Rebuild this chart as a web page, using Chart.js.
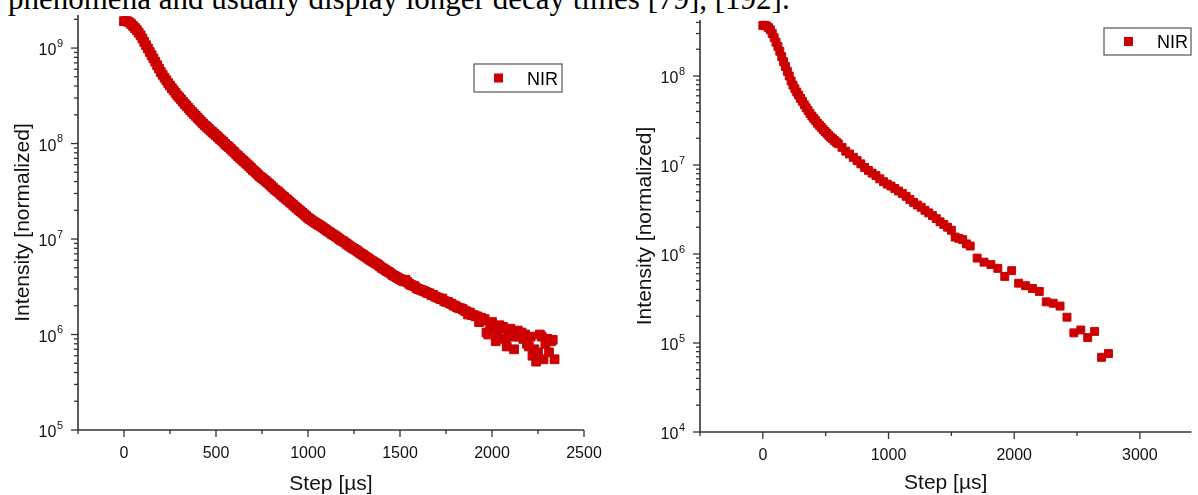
<!DOCTYPE html>
<html>
<head>
<meta charset="utf-8">
<title>NIR decay</title>
<script src="https://cdn.jsdelivr.net/npm/chart.js@4.4.1/dist/chart.umd.min.js"></script>
<style>
  html, body { margin: 0; padding: 0; background: #fff; }
  body { width: 1198px; height: 495px; position: relative; overflow: hidden; }
  .caption {
    position: absolute; left: 8px; top: -17px;
    font-family: "Liberation Serif", "Times New Roman", serif;
    font-size: 31px; line-height: 31px; white-space: nowrap; color: #000;
  }
  canvas { position: absolute; top: 0; }
  #leftChart { left: 0; }
  #rightChart { left: 600px; }
</style>
</head>
<body>
<div class="caption">phenomena and usually display longer decay times [79], [192].</div>
<canvas id="leftChart" width="640" height="495"></canvas>
<canvas id="rightChart" width="598" height="495"></canvas>
<script>
const seriesLabel = 'NIR';
const markerColor = '#cc0000';

// Left panel: dense trace
const leftSteps = [
    0, 10, 20, 30, 40, 50, 60, 70, 80, 90,
    100, 110, 120, 130, 140, 150, 160, 170, 180, 190,
    200, 210, 220, 230, 240, 250, 260, 270, 280, 290,
    300, 310, 320, 330, 340, 350, 360, 370, 380, 390,
    400, 410, 420, 430, 440, 450, 460, 470, 480, 490,
    500, 510, 520, 530, 540, 550, 560, 570, 580, 590,
    600, 610, 620, 630, 640, 650, 660, 670, 680, 690,
    700, 710, 720, 730, 740, 750, 760, 770, 780, 790,
    800, 810, 820, 830, 840, 850, 860, 870, 880, 890,
    900, 910, 920, 930, 940, 950, 960, 970, 980, 990,
    1000, 1010, 1020, 1030, 1040, 1050, 1060, 1070, 1080, 1090,
    1100, 1110, 1120, 1130, 1140, 1150, 1160, 1170, 1180, 1190,
    1200, 1210, 1220, 1230, 1240, 1250, 1260, 1270, 1280, 1290,
    1300, 1310, 1320, 1330, 1340, 1350, 1360, 1370, 1380, 1390,
    1400, 1410, 1420, 1430, 1440, 1450, 1460, 1470, 1480, 1490,
    1500, 1510, 1520, 1530, 1540, 1550, 1560, 1570, 1580, 1590,
    1600, 1610, 1620, 1630, 1640, 1650, 1660, 1670, 1680, 1690,
    1700, 1710, 1720, 1730, 1740, 1750, 1760, 1770, 1780, 1790,
    1800, 1810, 1820, 1830, 1840, 1850, 1860, 1870, 1880, 1890,
    1900, 1910, 1920, 1930, 1940, 1950, 1960, 1970, 1980, 1990,
    2000, 2010, 2020, 2030, 2040, 2050, 2060, 2070, 2080, 2090,
    2100, 2110, 2120, 2130, 2140, 2150, 2160, 2170, 2180, 2190,
    2200, 2210, 2220, 2230, 2240, 2250, 2260, 2270, 2280, 2290,
    2300, 2310, 2320, 2330, 2340
];
const leftIntensity = [
    1.91e9, 1.92e9, 1.90e9, 1.85e9, 1.78e9, 1.70e9, 1.62e9, 1.54e9, 1.45e9, 1.36e9,
    1.26e9, 1.16e9, 1.07e9, 9.9e8, 9.1e8, 8.4e8, 7.8e8, 7.2e8, 6.6e8, 6.1e8,
    5.6e8, 5.25e8, 4.9e8, 4.6e8, 4.3e8, 4.05e8, 3.8e8, 3.6e8, 3.4e8, 3.2e8,
    3.05e8, 2.9e8, 2.75e8, 2.6e8, 2.48e8, 2.36e8, 2.24e8, 2.14e8, 2.04e8, 1.95e8,
    1.86e8, 1.78e8, 1.70e8, 1.62e8, 1.55e8, 1.49e8, 1.43e8, 1.37e8, 1.32e8, 1.27e8,
    1.22e8, 1.17e8, 1.12e8, 1.08e8, 1.04e8, 9.9e7, 9.5e7, 9.2e7, 8.8e7, 8.4e7,
    8.1e7, 7.7e7, 7.4e7, 7.1e7, 6.8e7, 6.55e7, 6.3e7, 6.05e7, 5.8e7, 5.55e7,
    5.3e7, 5.1e7, 4.9e7, 4.7e7, 4.5e7, 4.35e7, 4.2e7, 4.05e7, 3.9e7, 3.75e7,
    3.6e7, 3.45e7, 3.3e7, 3.2e7, 3.1e7, 2.97e7, 2.85e7, 2.75e7, 2.64e7, 2.55e7,
    2.45e7, 2.36e7, 2.27e7, 2.18e7, 2.1e7, 2.02e7, 1.95e7, 1.88e7, 1.81e7, 1.74e7,
    1.67e7, 1.62e7, 1.57e7, 1.52e7, 1.48e7, 1.44e7, 1.40e7, 1.36e7, 1.32e7, 1.28e7,
    1.24e7, 1.20e7, 1.17e7, 1.13e7, 1.10e7, 1.07e7, 1.04e7, 1.00e7, 9.7e6, 9.5e6,
    9.2e6, 8.9e6, 8.6e6, 8.35e6, 8.1e6, 7.9e6, 7.7e6, 7.45e6, 7.2e6, 7.0e6,
    6.8e6, 6.6e6, 6.4e6, 6.2e6, 6.0e6, 5.85e6, 5.7e6, 5.55e6, 5.4e6, 5.2e6,
    5.0e6, 4.9e6, 4.75e6, 4.6e6, 4.5e6, 4.35e6, 4.2e6, 4.1e6, 4.0e6, 3.9e6,
    3.8e6, 3.7e6, 3.6e6, 3.75e6, 3.55e6, 3.4e6, 3.3e6, 3.25e6, 3.2e6, 3.05e6,
    3.0e6, 2.95e6, 2.9e6, 2.85e6, 2.8e6, 2.72e6, 2.7e6, 2.6e6, 2.6e6, 2.5e6,
    2.45e6, 2.42e6, 2.35e6, 2.38e6, 2.25e6, 2.2e6, 2.2e6, 2.12e6, 2.1e6, 2.02e6,
    2.0e6, 1.93e6, 1.9e6, 1.88e6, 1.85e6, 1.78e6, 1.75e6, 1.62e6, 1.7e6, 1.6e6,
    1.6e6, 1.55e6, 1.55e6, 1.35e6, 1.5e6, 1.4e6, 1.45e6, 1.05e6, 1.0e6, 1.3e6,
    1.35e6, 1.2e6, 8.5e5, 1.05e6, 1.25e6, 1.15e6, 1.2e6, 9.0e5, 7.5e5, 1.05e6,
    1.15e6, 9.5e5, 7.0e5, 1.0e6, 1.1e6, 9.5e5, 1.05e6, 9.0e5, 1.0e6, 8.0e5,
    7.5e5, 9.5e5, 6.0e5, 7.0e5, 5.2e5, 6.5e5, 1.0e6, 9.5e5, 5.5e5, 8.0e5,
    9.0e5, 6.5e5, 8.5e5, 8.8e5, 5.5e5
];
const leftXTicks = [0, 500, 1000, 1500, 2000, 2500];
const leftYTicks = [1e5, 1e6, 1e7, 1e8, 1e9];

// Right panel: fine sampling early, coarse in the tail
const rightSteps = [
    0, 15, 30, 45, 60, 75, 90, 105, 120, 135, 150, 165, 180, 195, 210, 225, 240, 255, 270, 285,
    300, 315, 330, 345, 360, 375, 390, 405, 420, 435, 450, 465, 480, 495, 510, 525, 540, 555, 570, 585,
    600, 630, 660, 690, 720, 750, 780, 810, 840, 870, 900, 930, 960, 990, 1020, 1050, 1080, 1110, 1140, 1170,
    1200, 1230, 1260, 1290, 1320, 1350, 1380, 1410, 1440, 1470, 1500, 1530, 1560, 1590, 1620, 1650,
    1705, 1760, 1815, 1870, 1925, 1980, 2035, 2090, 2145, 2200, 2255, 2310, 2365, 2420, 2475, 2530,
    2585, 2640, 2695, 2750
];
const rightIntensity = [
    3.7e8, 3.72e8, 3.65e8, 3.5e8, 3.3e8, 3.0e8, 2.7e8, 2.4e8, 2.15e8, 1.9e8,
    1.65e8, 1.45e8, 1.28e8, 1.13e8, 1.0e8, 8.8e7, 7.9e7, 7.2e7, 6.6e7, 6.1e7,
    5.6e7, 5.2e7, 4.75e7, 4.4e7, 4.1e7, 3.8e7, 3.55e7, 3.35e7, 3.15e7, 2.95e7,
    2.8e7, 2.65e7, 2.5e7, 2.38e7, 2.27e7, 2.15e7, 2.05e7, 1.97e7, 1.88e7, 1.80e7,
    1.73e7, 1.58e7, 1.43e7, 1.33e7, 1.22e7, 1.12e7, 1.03e7, 9.4e6, 8.7e6, 8.1e6,
    7.6e6, 7.0e6, 6.5e6, 6.1e6, 5.8e6, 5.45e6, 5.1e6, 4.8e6, 4.45e6, 4.1e6,
    3.8e6, 3.55e6, 3.35e6, 3.1e6, 2.9e6, 2.7e6, 2.5e6, 2.3e6, 2.15e6, 2.0e6,
    1.85e6, 1.55e6, 1.5e6, 1.45e6, 1.3e6, 1.23e6,
    9.0e5, 8.1e5, 7.6e5, 6.9e5, 5.6e5, 6.5e5, 4.7e5, 4.4e5, 4.1e5, 3.8e5,
    2.9e5, 2.8e5, 2.6e5, 1.95e5, 1.3e5, 1.4e5, 1.15e5, 1.35e5, 6.9e4, 7.6e4
];
const rightXTicks = [0, 1000, 2000, 3000];
const rightYTicks = [1e4, 1e5, 1e6, 1e7, 1e8];

const axisFont = 'Arial, "Liberation Sans", sans-serif';

/**
 * Origin-style axes: left and bottom lines, outward ticks, 10^n labels
 */
const originAxes = {
    id: 'originAxes',
    afterDatasetsDraw(chart, args, opts) {
        const ctx = chart.ctx;
        const area = chart.chartArea;
        const xs = chart.scales.x;
        const ys = chart.scales.y;

        ctx.save();
        ctx.strokeStyle = '#333';
        ctx.lineWidth = 1.6;
        ctx.beginPath();
        ctx.moveTo(area.left, area.top);
        ctx.lineTo(area.left, area.bottom);
        ctx.lineTo(area.right, area.bottom);
        ctx.stroke();

        // x ticks
        ctx.lineWidth = 1.3;
        ctx.fillStyle = '#111';
        ctx.font = '16px ' + axisFont;
        ctx.textAlign = 'center';
        ctx.textBaseline = 'alphabetic';
        for (let v = xs.min; v <= xs.max + 0.001; v += opts.xMinor) {
            const px = xs.getPixelForValue(v);
            const major = opts.xTicks.includes(v);
            ctx.beginPath();
            ctx.moveTo(px, area.bottom);
            ctx.lineTo(px, area.bottom + (major ? 7 : 4));
            ctx.stroke();
            if (major) {
                ctx.fillText(String(v), px, area.bottom + 28);
            }
        }

        // y ticks (log decades with 2..9 minors)
        const lo = Math.floor(Math.log10(ys.min));
        const hi = Math.ceil(Math.log10(ys.max));
        for (let d = lo; d <= hi; d++) {
            for (let m = 1; m <= 9; m++) {
                const v = m * Math.pow(10, d);
                if (v < ys.min * 0.999 || v > ys.max * 1.001) continue;
                const py = ys.getPixelForValue(v);
                ctx.beginPath();
                ctx.moveTo(area.left, py);
                ctx.lineTo(area.left - (m === 1 ? 7 : 4), py);
                ctx.stroke();
            }
        }

        ctx.textAlign = 'right';
        opts.yTicks.forEach(v => {
            const py = ys.getPixelForValue(v);
            const exp = String(Math.round(Math.log10(v)));
            const right = area.left - 15;
            ctx.font = '11px ' + axisFont;
            const supW = ctx.measureText(exp).width;
            ctx.fillText(exp, right, py - 1.5);
            ctx.font = '16px ' + axisFont;
            ctx.fillText('10', right - supW - 0.5, py + 7);
        });

        // axis titles
        ctx.font = '21px ' + axisFont;
        ctx.textAlign = 'center';
        ctx.fillText(opts.xTitle, (area.left + area.right) / 2, area.bottom + opts.xTitleOffset);

        ctx.translate(area.left - 49, (area.top + area.bottom) / 2);
        ctx.rotate(-Math.PI / 2);
        ctx.fillText(opts.yTitle, 0, 0);
        ctx.restore();
    }
};

/**
 * Boxed legend placed inside the plot like Origin does
 */
const boxLegend = {
    id: 'boxLegend',
    afterDraw(chart, args, opts) {
        const ctx = chart.ctx;
        const ds = chart.data.datasets[0];
        const b = opts.box;

        ctx.save();
        ctx.strokeStyle = '#555';
        ctx.lineWidth = 1.2;
        ctx.strokeRect(b.x, b.y, b.w, b.h);

        ctx.fillStyle = ds.backgroundColor;
        ctx.fillRect(b.x + 20, b.y + b.h / 2 - 4.5, 9, 9);

        ctx.fillStyle = '#000';
        ctx.font = '18px ' + axisFont;
        ctx.textAlign = 'left';
        ctx.textBaseline = 'alphabetic';
        ctx.fillText(ds.label, b.x + 53, b.y + b.h / 2 + 6.5);
        ctx.restore();
    }
};

/**
 * Build one decay panel
 */
function buildDecayChart(canvasId, steps, intensity, panel) {
    const ctx = document.getElementById(canvasId).getContext('2d');
    const points = steps.map((s, i) => ({ x: s, y: intensity[i] }));

    return new Chart(ctx, {
        type: 'scatter',
        data: {
            datasets: [{
                label: seriesLabel,
                data: points,
                backgroundColor: markerColor,
                borderColor: markerColor,
                borderWidth: 1,
                pointStyle: 'rect',
                pointRadius: panel.markerRadius,
                clip: false
            }]
        },
        options: {
            responsive: false,
            animation: false,
            devicePixelRatio: 1,
            layout: { padding: panel.padding },
            scales: {
                x: { type: 'linear', display: false, min: panel.xMin, max: panel.xMax },
                y: { type: 'logarithmic', display: false, min: panel.yMin, max: panel.yMax }
            },
            plugins: {
                legend: { display: false },
                tooltip: { enabled: false },
                originAxes: {
                    xTicks: panel.xTicks,
                    yTicks: panel.yTicks,
                    xMinor: panel.xMinor,
                    xTitle: 'Step [µs]',
                    yTitle: 'Intensity [normalized]',
                    xTitleOffset: panel.xTitleOffset
                },
                boxLegend: { box: panel.legendBox }
            }
        },
        plugins: [originAxes, boxLegend]
    });
}

document.addEventListener('DOMContentLoaded', function() {
    buildDecayChart('leftChart', leftSteps, leftIntensity, {
        padding: { left: 78, right: 56, top: 15, bottom: 65 },
        xMin: -250, xMax: 2500, xMinor: 250,
        yMin: 1e5, yMax: 2.22e9,
        xTicks: leftXTicks, yTicks: leftYTicks,
        xTitleOffset: 60,
        markerRadius: 6.2,
        legendBox: { x: 474, y: 64, w: 88, h: 28 }
    });

    buildDecayChart('rightChart', rightSteps, rightIntensity, {
        padding: { left: 100, right: 0, top: 20, bottom: 63 },
        xMin: -500, xMax: 3410, xMinor: 500,
        yMin: 1e4, yMax: 4.26e8,
        xTicks: rightXTicks, yTicks: rightYTicks,
        xTitleOffset: 57,
        markerRadius: 5.6,
        legendBox: { x: 504, y: 28, w: 87, h: 27 }
    });
});
</script>
</body>
</html>
